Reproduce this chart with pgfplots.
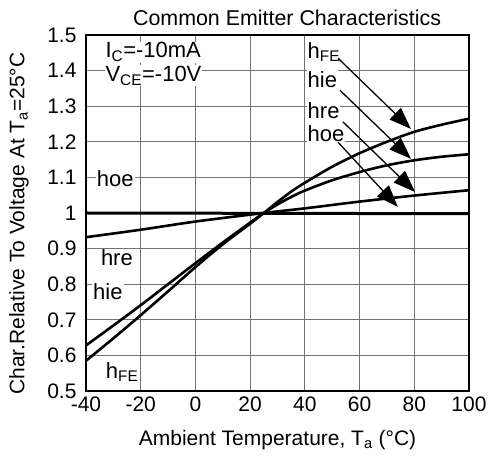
\documentclass[border=0pt]{standalone}
\usepackage{fontspec}
\setmainfont{Liberation Sans}
\usepackage{pgfplots}
\pgfplotsset{compat=1.18}
\usetikzlibrary{arrows.meta}
\begin{document}
\begin{tikzpicture}
\begin{axis}[name=ax,
  width=383pt, height=356pt, scale only axis,
  xmin=-40, xmax=100, ymin=0.5, ymax=1.5,
  xtick={-40,-20,0,20,40,60,80,100},
  ytick={0.5,0.6,0.7,0.8,0.9,1,1.1,1.2,1.3,1.4,1.5},
  yticklabels={0.5,0.6,0.7,0.8,0.9,1,1.1,1.2,1.3,1.4,1.5},
  grid=major, major grid style={black!55, line width=0.9pt},
  major tick length=0pt,
  axis line style={line width=1.3pt},
  tick label style={font=\fontsize{21}{22}\selectfont},
  /pgf/number format/assume math mode=true,
  xticklabel style={yshift=-2pt},
  yticklabel style={xshift=-6pt},
  title={Common Emitter Characteristics},
  title style={font=\fontsize{21.4}{23}\selectfont, at={(axis description cs:0.525,1.032)}, anchor=center},
  xlabel={Ambient Temperature, T\textsubscript{a} (°C)},
  ylabel={Char.Relative To Voltage At T\textsubscript{a}=25°C},
  xlabel style={font=\fontsize{21}{24}\selectfont, at={(axis description cs:0.5,-0.137)}, anchor=center},
  ylabel style={font=\fontsize{21}{24}\selectfont, at={(axis description cs:-0.175,0.47)}, anchor=center, rotate=0},
]
% labels with white background
\node[fill=white, inner sep=1pt, anchor=west, font=\fontsize{22}{24}\selectfont] at (axis cs:-33.3,1.452) {I\textsubscript{C}=-10mA};
\node[fill=white, inner sep=1pt, anchor=west, font=\fontsize{22}{24}\selectfont] at (axis cs:-33.3,1.385) {V\textsubscript{CE}=-10V};
\node[fill=white, inner sep=1pt, font=\fontsize{22}{24}\selectfont] at (axis cs:-29.3,1.096) {hoe};
\node[fill=white, inner sep=1pt, font=\fontsize{22}{24}\selectfont] at (axis cs:-28.7,0.874) {hre};
\node[fill=white, inner sep=1pt, font=\fontsize{22}{24}\selectfont] at (axis cs:-32.0,0.778) {hie};
\node[fill=white, inner sep=1pt, font=\fontsize{22}{24}\selectfont] at (axis cs:-26.8,0.553) {h\textsubscript{FE}};
\node[fill=white, inner sep=1pt, anchor=west, font=\fontsize{22}{24}\selectfont] at (axis cs:40.6,1.452) {h\textsubscript{FE}};
\node[fill=white, inner sep=1pt, anchor=west, font=\fontsize{22}{24}\selectfont] at (axis cs:40.6,1.376) {hie};
\node[fill=white, inner sep=1pt, anchor=west, font=\fontsize{22}{24}\selectfont] at (axis cs:40.6,1.287) {hre};
\node[fill=white, inner sep=1pt, anchor=west, font=\fontsize{22}{24}\selectfont] at (axis cs:40.6,1.222) {hoe};
% curves
\addplot[black, line width=2.6pt, smooth] coordinates {(-40,0.585) (-30,0.648) (-20,0.713) (-10,0.780) (0,0.848) (10,0.912) (20,0.970) (25,1.0) (30,1.031) (35,1.060) (40,1.085) (50,1.130) (60,1.168) (70,1.200) (80,1.228) (90,1.248) (100,1.265)};
\addplot[black, line width=2.6pt, smooth] coordinates {(-40,0.628) (-30,0.684) (-20,0.741) (-10,0.800) (0,0.859) (10,0.917) (20,0.973) (25,1.0) (30,1.024) (35,1.045) (40,1.063) (50,1.092) (60,1.115) (70,1.134) (80,1.148) (90,1.158) (100,1.165)};
\addplot[black, line width=2.6pt, smooth] coordinates {(-40,0.932) (-20,0.953) (0,0.976) (25,1.0) (40,1.013) (60,1.032) (80,1.049) (100,1.064)};
\addplot[black, line width=3pt] coordinates {(-40,1.0) (100,0.998)};
% arrows
\draw[black, line width=1.3pt, -{Triangle[length=22pt,width=16pt]}] (axis cs:52.1,1.435) -- (axis cs:78.8,1.236);
\draw[black, line width=1.3pt, -{Triangle[length=22pt,width=16pt]}] (axis cs:52.8,1.345) -- (axis cs:78.8,1.152);
\draw[black, line width=1.3pt, -{Triangle[length=22pt,width=16pt]}] (axis cs:53.9,1.256) -- (axis cs:80.3,1.059);
\draw[black, line width=1.3pt, -{Triangle[length=22pt,width=16pt]}] (axis cs:52.1,1.199) -- (axis cs:74.0,1.017);
\end{axis}
\pgfresetboundingbox
\path (ax.south west) ++(-86pt,-66pt) rectangle ++(492pt,457pt);
\end{tikzpicture}
\end{document}
